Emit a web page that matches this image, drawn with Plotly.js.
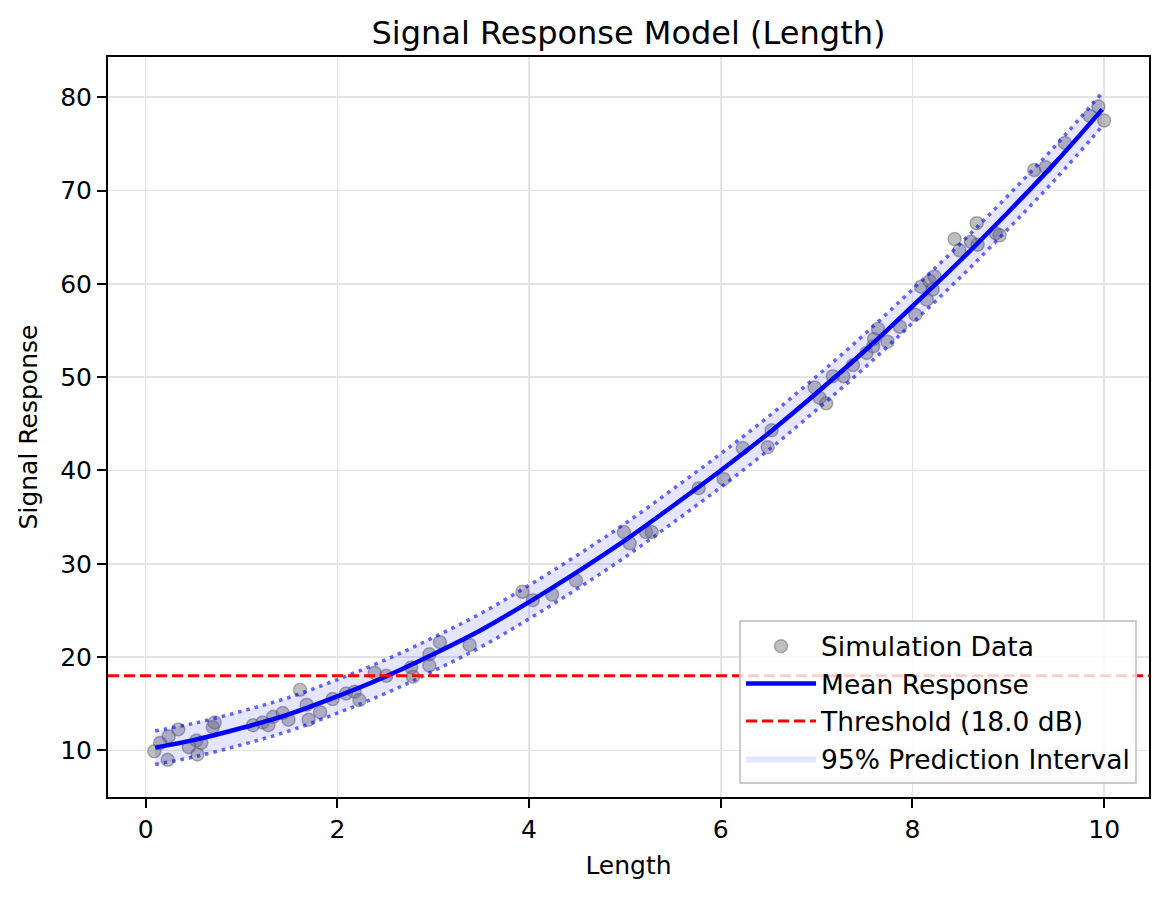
<!DOCTYPE html>
<html>
<head>
<meta charset="utf-8">
<script src="https://cdn.plot.ly/plotly-3.0.1.min.js"></script>
<style>html,body{margin:0;padding:0;background:#fff;}#chart{width:1169px;height:898px;}</style>
</head>
<body>
<div id="chart"></div>
<script>
// Simulation data points
const simX = [0.09,0.15,0.23,0.24,0.34,0.45,0.53,0.54,0.58,0.70,0.72,1.12,1.22,1.28,1.33,1.43,1.49,1.61,1.68,1.70,1.82,1.95,2.09,2.18,2.23,2.39,2.51,2.77,2.79,2.96,2.96,3.07,3.38,3.93,4.04,4.24,4.49,4.99,5.05,5.22,5.28,5.77,6.03,6.23,6.49,6.53,6.98,7.03,7.10,7.17,7.28,7.38,7.52,7.59,7.60,7.64,7.74,7.87,8.03,8.09,8.15,8.18,8.21,8.23,8.44,8.49,8.61,8.67,8.68,8.87,8.91,9.27,9.39,9.59,9.85,9.94,10.0];
const simY = [9.9,10.8,9.0,11.5,12.25,10.35,11.07,9.57,10.8,12.5,13.0,12.7,13.0,12.7,13.6,14.0,13.3,16.5,14.9,13.3,14.1,15.5,16.1,16.3,15.4,18.3,18.0,18.9,17.9,20.3,19.1,21.6,21.3,27.0,26.1,26.7,28.2,33.4,32.2,33.4,33.4,38.1,39.1,42.4,42.5,44.3,48.9,47.8,47.2,50.1,50.1,51.3,52.6,53.3,54.1,55.2,53.8,55.4,56.7,59.7,58.3,60.3,59.4,60.8,64.8,63.6,64.5,66.5,64.2,65.4,65.2,72.2,72.5,75.1,78.0,79.0,77.5];

// Mean response curve and prediction interval
const curveX = [0.1,0.5,1.0,1.5,2.0,2.5,3.0,3.5,4.0,4.5,5.0,5.5,6.0,6.5,7.0,7.5,8.0,8.5,9.0,9.5,9.98];
const meanY  = [10.3,11.1,12.4,13.9,15.8,17.9,20.3,22.9,25.9,29.1,32.5,36.2,40.0,44.0,48.3,52.8,57.6,62.5,67.7,73.1,78.7];
const upperY = [12.1,12.9,14.2,15.7,17.6,19.7,22.1,24.7,27.7,30.9,34.3,38.0,41.8,45.8,50.1,54.6,59.4,64.3,69.5,74.9,80.5];
const lowerY = [8.5,9.3,10.6,12.1,14.0,16.1,18.5,21.1,24.1,27.3,30.7,34.4,38.2,42.2,46.5,51.0,55.8,60.7,65.9,71.3,76.9];

const threshold = 18.0;
const xRange = [-0.393, 10.468];
const yRange = [5.01, 84.31];
const xTicks = [0,2,4,6,8,10];
const yTicks = [10,20,30,40,50,60,70,80];

const FONT = 'DejaVu Sans, Liberation Sans, sans-serif';

const traces = [
  {
    x: simX, y: simY, type: 'scatter', mode: 'markers', name: 'Simulation Data',
    marker: {size: 13, color: 'rgba(128,128,128,0.5)', line: {color: 'rgba(90,90,90,0.45)', width: 1.5}},
    legendrank: 1
  },
  {
    x: curveX, y: lowerY, type: 'scatter', mode: 'lines', showlegend: false, hoverinfo: 'skip',
    line: {width: 0, shape: 'spline'}
  },
  {
    x: curveX, y: upperY, type: 'scatter', mode: 'lines', name: '95% Prediction Interval',
    fill: 'tonexty', fillcolor: 'rgba(0,0,255,0.1)', line: {width: 0, shape: 'spline'},
    legendrank: 4
  },
  {
    x: curveX, y: upperY, type: 'scatter', mode: 'lines', showlegend: false, hoverinfo: 'skip',
    line: {color: 'rgba(0,0,255,0.6)', width: 3.5, dash: '3.5px,5px', shape: 'spline'}
  },
  {
    x: curveX, y: lowerY, type: 'scatter', mode: 'lines', showlegend: false, hoverinfo: 'skip',
    line: {color: 'rgba(0,0,255,0.6)', width: 3.5, dash: '3.5px,5px', shape: 'spline'}
  },
  {
    x: curveX, y: meanY, type: 'scatter', mode: 'lines', name: 'Mean Response',
    line: {color: 'rgb(0,0,255)', width: 4.5, shape: 'spline'},
    legendrank: 2
  },
  {
    x: xRange, y: [threshold, threshold], type: 'scatter', mode: 'lines',
    name: 'Threshold (' + threshold.toFixed(1) + ' dB)',
    line: {color: 'rgb(255,0,0)', width: 3, dash: '11px,5px'},
    legendrank: 3
  }
];

const axisCommon = {
  showline: true, mirror: true, linecolor: '#000', linewidth: 2,
  ticks: 'outside', ticklen: 9, tickwidth: 2, tickcolor: '#000',
  showgrid: true, gridcolor: '#e4e4e4', gridwidth: 1.5, zeroline: false,
  tickfont: {family: FONT, size: 25, color: '#000'}
};

const layout = {
  width: 1169, height: 898,
  margin: {l: 108, r: 20, t: 57, b: 101, pad: 0},
  paper_bgcolor: '#fff', plot_bgcolor: '#fff',
  font: {family: FONT, color: '#000'},
  title: {text: 'Signal Response Model (Length)', font: {family: FONT, size: 32, color: '#000'},
          x: 0.5, xref: 'paper', y: 1 - 33/898, yref: 'container', yanchor: 'middle'},
  xaxis: Object.assign({}, axisCommon, {
    range: xRange, tickvals: xTicks, ticktext: xTicks.map(String),
    title: {text: 'Length', font: {family: FONT, size: 25, color: '#000'}, standoff: 13}
  }),
  yaxis: Object.assign({}, axisCommon, {
    range: yRange, tickvals: yTicks, ticktext: yTicks.map(String),
    title: {text: 'Signal Response', font: {family: FONT, size: 25, color: '#000'}, standoff: 15}
  }),
  legend: {
    x: 0.9885, xanchor: 'right', y: 0.017, yanchor: 'bottom',
    bgcolor: 'rgba(255,255,255,0.8)', bordercolor: '#cccccc', borderwidth: 2,
    font: {family: FONT, size: 26.5, color: '#000'}, itemwidth: 70, tracegroupgap: 0,
    traceorder: 'normal'
  },
  showlegend: true
};

Plotly.newPlot('chart', traces, layout, {displayModeBar: false, staticPlot: true});
</script>
</body>
</html>
